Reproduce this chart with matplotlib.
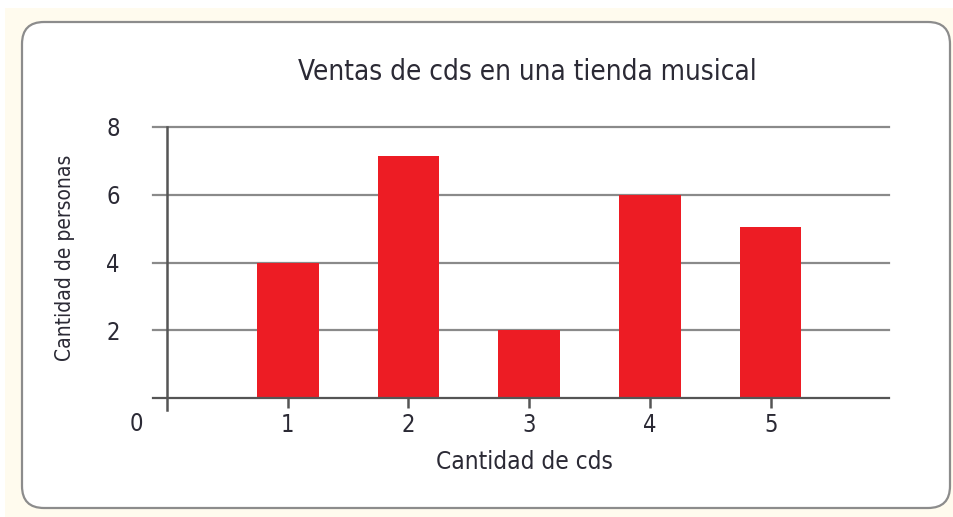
import matplotlib
matplotlib.use("Agg")
import matplotlib.pyplot as plt
from matplotlib.patches import FancyBboxPatch, Rectangle

# data
cds = [1, 2, 3, 4, 5]
personas = [4, 7.15, 2, 6, 5.05]
yticks = [2, 4, 6, 8]

title = "Ventas de cds en una tienda musical"
xlabel = "Cantidad de cds"
ylabel = "Cantidad de personas"

RED = "#ED1C24"
GRID = "#8a8a8a"
TEXT = "#2b2a35"
CREAM = "#FFFBEE"

plt.rcParams["font.family"] = ["DejaVu Sans"]
plt.rcParams["font.stretch"] = "condensed"

W, H = 954, 517
fig = plt.figure(figsize=(W / 100, H / 100), dpi=100)
fig.patch.set_facecolor("white")

# background layer in pixel coordinates
bg = fig.add_axes([0, 0, 1, 1])
bg.set_xlim(0, W)
bg.set_ylim(H, 0)
bg.axis("off")
bg.add_patch(Rectangle((5, 8), W - 5, H - 8, facecolor=CREAM, edgecolor="none"))
bg.add_patch(FancyBboxPatch((22, 22), 928, 486,
                            boxstyle="round,pad=0,rounding_size=22",
                            facecolor="white", edgecolor="#8c8c8c", linewidth=1.6))


def fx(px):
    return px / W


def fy(py):
    return 1 - py / H


x0_px, x1_px = 153, 889
y0_px, y1_px = 398, 127
ax = fig.add_axes([fx(x0_px), fy(y0_px), fx(x1_px) - fx(x0_px), fy(y1_px) - fy(y0_px)])
ax.patch.set_alpha(0)
ax.set_xlim(-0.116, 5.98)
ax.set_ylim(0, 8)

for v in yticks:
    ax.axhline(v, color=GRID, linewidth=1.6, zorder=1, clip_on=False)

ax.bar(cds, personas, width=0.51, color=RED, zorder=2)

for s in ["top", "right", "left"]:
    ax.spines[s].set_visible(False)
ax.spines["bottom"].set_color("#555555")
ax.spines["bottom"].set_linewidth(1.6)

# y axis line, running a bit below zero
ax.plot([0, 0], [-0.35, 8], color="#555555", linewidth=1.8, clip_on=False, zorder=3)

ax.set_xticks(cds)
ax.set_xticklabels([str(c) for c in cds], fontsize=17, color=TEXT)
ax.tick_params(axis="x", direction="out", length=7, width=1.8, color="#555555", pad=4)
ax.set_yticks(yticks)
ax.set_yticklabels([str(v) for v in yticks], fontsize=17, color=TEXT)
ax.tick_params(axis="y", length=0, pad=24)
ax.text(-0.2, -0.42, "0", ha="right", va="top", fontsize=17, color=TEXT)

fig.text(fx(524), fy(462), xlabel, ha="center", va="center", fontsize=17.5, color=TEXT)
fig.text(fx(65), fy(258), ylabel, ha="center", va="center", rotation=90,
         fontsize=15, color=TEXT)
fig.text(fx(527), fy(72), title, ha="center", va="center", fontsize=20, color=TEXT)

fig.savefig("out.png", dpi=100, facecolor=fig.get_facecolor())
